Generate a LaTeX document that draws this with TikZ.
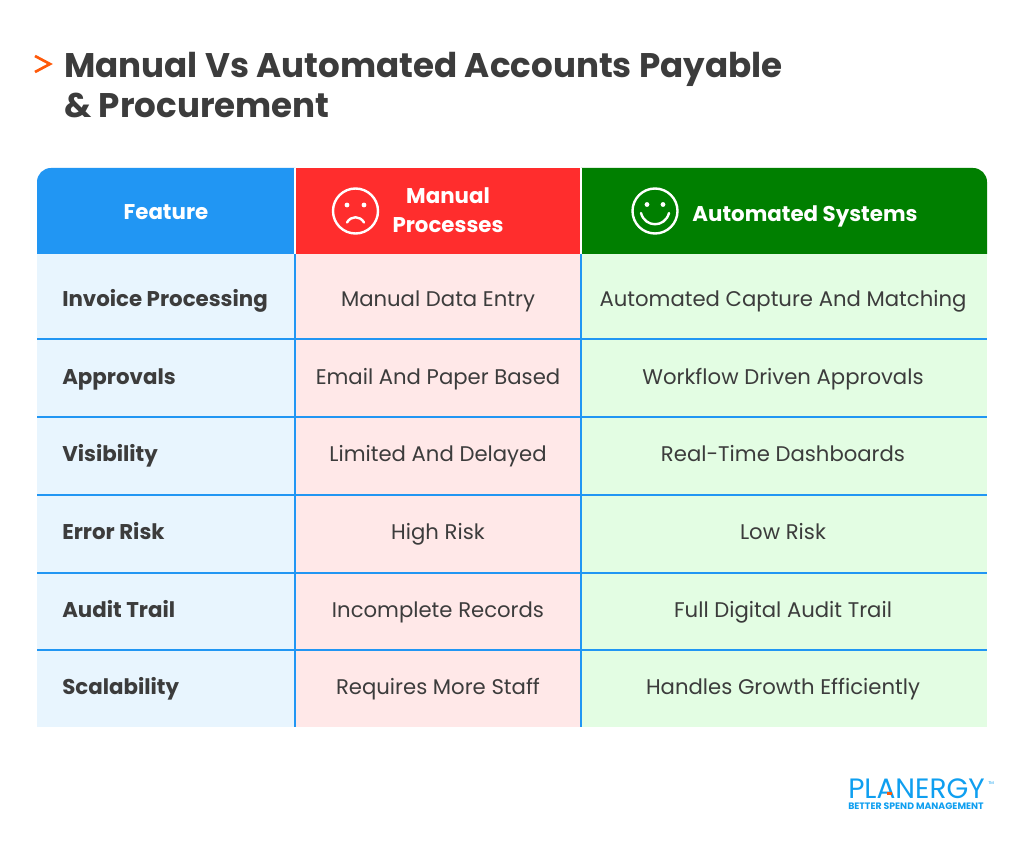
\documentclass[tikz,border=0pt]{standalone}
\usepackage{fontspec}
\setmainfont{Poppins}
\usetikzlibrary{positioning}
\definecolor{inkgrey}{HTML}{3C3C3C}
\definecolor{headblue}{HTML}{2196F3}
\definecolor{headred}{HTML}{FF2D2D}
\definecolor{headgreen}{HTML}{007F00}
\definecolor{rowblue}{HTML}{E8F5FE}
\definecolor{rowred}{HTML}{FFE8E8}
\definecolor{rowgreen}{HTML}{E3FDE3}
\definecolor{logoblue}{HTML}{0F9FF0}
\definecolor{arroworange}{HTML}{FF5A0A}
\tikzset{
  title/.style={anchor=base west, inner sep=0pt, text=inkgrey, font=\fontsize{25.6}{30}\selectfont\bfseries},
  headtext/.style={anchor=base, inner sep=0pt, text=white, font=\fontsize{16}{22}\selectfont\bfseries},
  feature/.style={anchor=base west, inner sep=0pt, text=inkgrey, font=\fontsize{16}{20}\selectfont\bfseries},
  celltext/.style={anchor=base, inner sep=0pt, text=inkgrey, font=\fontsize{15.9}{20}\selectfont},
  gridline/.style={headblue, line width=1.1pt},
  faceline/.style={white, line width=1.8pt, line cap=round},
}
\begin{document}
\begin{tikzpicture}[x=0.75pt, y=-0.75pt]
  \useasboundingbox (0,0) rectangle (1024,841);
  \fill[white] (0,0) rectangle (1024,841);

  % title
  \draw[arroworange, line width=2pt] (35,56) -- (50,64) -- (35,72);
  \node[title] (titleA) at (64,77.5) {Manual Vs Automated Accounts Payable};
  \node[title] (titleB) at (64,118) {\&\ Procurement};

  % body colours
  \fill[rowblue] (37,254) rectangle (295,727);
  \fill[rowred] (295,254) rectangle (581,727);
  \fill[rowgreen] (581,254) rectangle (987,727);

  % header
  \fill[headblue] (37,254) -- (37,182) arc (180:270:14) -- (295,168) -- (295,254) -- cycle;
  \fill[headred] (295,168) rectangle (581,254);
  \fill[headgreen] (581,254) -- (581,168) -- (973,168) arc (270:360:14) -- (987,254) -- cycle;
  \draw[white, line width=1.1pt] (295,168) -- (295,254);
  \draw[white, line width=1.1pt] (581,168) -- (581,254);

  % grid
  \foreach \y in {339,417,495,573,650} {
    \draw[gridline] (37,\y) -- (987,\y);
  }
  \draw[gridline] (295,254) -- (295,727);
  \draw[gridline] (581,254) -- (581,727);

  % header texts
  \node[headtext] (feature) at (166,220) {Feature};
  \node[headtext] (manualA) at (448,204) {Manual};
  \node[headtext] (manualB) at (448,233) {Processes};
  \node[headtext] (automated) at (805,222) {Automated Systems};

  % sad face
  \draw[faceline] (355.5,211) circle (22.5);
  \fill[white] (347,205) circle (2.4);
  \fill[white] (364,205) circle (2.4);
  \draw[faceline] (347,222.5) .. controls (351,215.5) and (360,215.5) .. (364,222.5);

  % happy face
  \draw[faceline] (655,211) circle (22.5);
  \fill[white] (647,204.5) circle (2.4);
  \fill[white] (663,204.5) circle (2.4);
  \draw[faceline] (641,213) .. controls (645,228) and (665,228) .. (669,213);

  % rows
  \foreach \name/\y/\a/\b/\c in {
    inv/306.5/Invoice Processing/Manual Data Entry/Automated Capture And Matching,
    app/384.5/Approvals/Email And Paper Based/Workflow Driven Approvals,
    vis/461.5/Visibility/Limited And Delayed/Real-Time Dashboards,
    err/539.5/Error Risk/High Risk/Low Risk,
    aud/617.5/Audit Trail/Incomplete Records/Full Digital Audit Trail,
    sca/694.5/Scalability/Requires More Staff/Handles Growth Efficiently} {
    \node[feature] (\name A) at (62,\y) {\a};
    \node[celltext] (\name B) at (438,\y) {\b};
    \node[celltext] (\name C) at (783,\y) {\c};
  }

  % logo
  \node[inner sep=0pt, anchor=base west, text=logoblue, font=\fontsize{21}{21}\selectfont] (logo) at (848,798) {PLANERGY};
  \fill[arroworange] (887,792) rectangle (892,794.5);
  \node[inner sep=0pt, anchor=base west, text=logoblue, font=\fontsize{7}{8}\selectfont\bfseries] (tagline) at (848,809.5) {BETTER SPEND MANAGEMENT};
  \node[inner sep=0pt, anchor=base west, text=logoblue, font=\fontsize{3}{3}\selectfont] (tm) at (988,784) {TM};
\end{tikzpicture}
\end{document}
